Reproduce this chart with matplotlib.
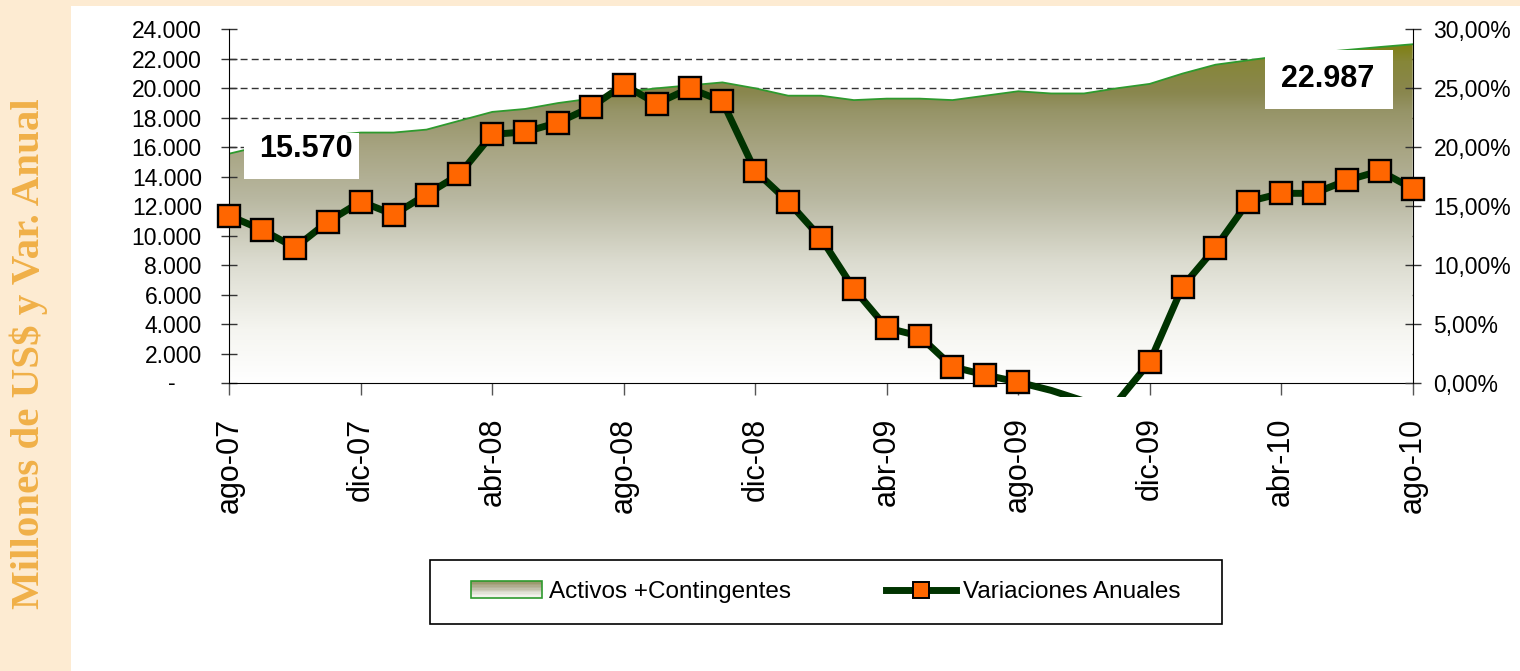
import numpy as np
import matplotlib
matplotlib.use("Agg")
import matplotlib.pyplot as plt
import matplotlib.transforms as mtransforms
from matplotlib.colors import LinearSegmentedColormap
from matplotlib.patches import Rectangle, Polygon, Patch
from matplotlib.lines import Line2D
from matplotlib.legend_handler import HandlerBase

meses = ["ago-07", "sep-07", "oct-07", "nov-07", "dic-07", "ene-08", "feb-08", "mar-08",
         "abr-08", "may-08", "jun-08", "jul-08", "ago-08", "sep-08", "oct-08", "nov-08",
         "dic-08", "ene-09", "feb-09", "mar-09", "abr-09", "may-09", "jun-09", "jul-09",
         "ago-09", "sep-09", "oct-09", "nov-09", "dic-09", "ene-10", "feb-10", "mar-10",
         "abr-10", "may-10", "jun-10", "jul-10", "ago-10"]

# Activos + Contingentes (millones de US$)
activos = [15570, 16100, 16500, 16800, 17000, 17000, 17200, 17800,
           18400, 18600, 19000, 19300, 19750, 20000, 20200, 20400,
           20000, 19500, 19500, 19200, 19300, 19300, 19200, 19500,
           19800, 19650, 19650, 20000, 20300, 21000, 21600, 21900,
           22200, 22400, 22600, 22800, 22987]

# Variaciones anuales (%)
variacion = [14.2, 13.0, 11.5, 13.7, 15.4, 14.3, 16.0, 17.7,
             21.1, 21.3, 22.1, 23.4, 25.3, 23.7, 25.0, 23.9,
             18.0, 15.4, 12.3, 8.0, 4.7, 4.0, 1.4, 0.7,
             0.1, -0.6, -1.5, -1.6, 1.8, 8.2, 11.5, 15.4,
             16.1, 16.1, 17.2, 18.0, 16.5]

etiquetas_x = meses[::4]
ticks_izq = list(range(0, 24001, 2000))
ticks_der = list(range(0, 31, 5))

plt.rcParams["font.family"] = ["Liberation Sans", "DejaVu Sans"]

# gradient of the area, by value (fraction of 24000)
grad = LinearSegmentedColormap.from_list("olivo", [
    (0.0, "#ffffff"), (0.15, "#f5f5f0"), (0.34, "#dcdcd0"), (0.525, "#b8b7a0"),
    (0.66, "#a8a583"), (0.77, "#969467"), (0.82, "#8a874f"), (0.91, "#868638"),
    (0.96, "#7f8010"), (1.0, "#7a7c00")])


class HandlerGradiente(HandlerBase):
    def create_artists(self, legend, orig_handle, xdescent, ydescent, width, height, fontsize, trans):
        n = 12
        arts = []
        for i in range(n):
            frac = 0.08 + 0.75 * (i + 0.5) / n
            arts.append(Rectangle((-xdescent, -ydescent + i * height / n), width, height / n,
                                  facecolor=grad(frac), edgecolor="none", transform=trans))
        arts.append(Rectangle((-xdescent, -ydescent), width, height, facecolor="none",
                              edgecolor="#2e9a2e", lw=1.2, transform=trans))
        return arts


W, H = 1520, 671
fig = plt.figure(figsize=(W / 100, H / 100), dpi=100)
fig.patches.append(Rectangle((0, 0), 71 / W, 1, transform=fig.transFigure,
                             facecolor="#FDEBD2", edgecolor="none", zorder=0))
fig.patches.append(Rectangle((0, 1 - 6 / H), 1, 6 / H, transform=fig.transFigure,
                             facecolor="#FDEBD2", edgecolor="none", zorder=0))

ax = fig.add_axes([229.3 / W, 1 - 383.3 / H, 1183.4 / W, 354 / H])
x = np.arange(len(meses))
ax.set_xlim(0, len(meses) - 1)
ax.set_ylim(0, 24000)

# dashed grid behind the area
for v in ticks_izq[1:-1]:
    ax.axhline(v, color="#333333", lw=1, ls=(0, (5, 3)), zorder=0.5)

im = ax.imshow(np.linspace(0, 1, 256).reshape(-1, 1), cmap=grad, origin="lower",
               extent=[0, len(meses) - 1, 0, 24000], aspect="auto", zorder=1)
verts = list(zip(x, activos)) + [(x[-1], 0), (x[0], 0)]
area = Polygon(verts, closed=True, facecolor="none", edgecolor="none", transform=ax.transData)
ax.add_patch(area)
im.set_clip_path(area)
ax.plot(x, activos, color="#2e9a2e", lw=1.3, zorder=2)

# value boxes
fmt = lambda v: f"{v:,}".replace(",", ".")
ax.add_patch(Rectangle((0.0127, 0.5763), 0.0966, 0.1316, transform=ax.transAxes,
                       facecolor="white", edgecolor="none", zorder=3))
ax.text(0.0644, 0.640, fmt(activos[0]), transform=ax.transAxes, ha="center", va="baseline",
        fontsize=22, fontweight="bold", zorder=4)
ax.add_patch(Rectangle((0.8752, 0.7749), 0.1082, 0.1666, transform=ax.transAxes,
                       facecolor="white", edgecolor="none", zorder=3))
ax.text(0.9284, 0.837, fmt(activos[-1]), transform=ax.transAxes, ha="center", va="baseline",
        fontsize=22, fontweight="bold", zorder=4)

ax.spines["top"].set_visible(False)
ax.spines["right"].set_visible(False)
ax.set_yticks(ticks_izq)
ax.set_yticklabels([""] + [fmt(v) for v in ticks_izq[1:]])
ax.text(-0.0484, 0, "-", transform=mtransforms.blended_transform_factory(ax.transAxes, ax.transData),
        ha="center", va="center", fontsize=16.5)
ax.tick_params(axis="y", direction="inout", length=11.5, width=1, color="#333333",
               labelsize=16.5, pad=14)
ax.set_xticks(x[::4])
ax.set_xticklabels(etiquetas_x, rotation=90, fontsize=22)
ax.tick_params(axis="x", direction="out", length=8.6, width=1, color="#555555", pad=16)

ax2 = ax.twinx()
ax2.set_ylim(0, 30)
ax2.spines["top"].set_visible(False)
ax2.spines["left"].set_visible(False)
ax2.spines["bottom"].set_visible(False)
ax2.set_yticks(ticks_der)
ax2.set_yticklabels([f"{v:.2f}".replace(".", ",") + "%" for v in ticks_der])
ax2.tick_params(axis="y", direction="inout", length=12, width=1, color="#333333",
                labelsize=16.5, pad=9)

var = np.array(variacion)
linea, = ax2.plot(x, var, color="#003300", lw=5, zorder=5, solid_capstyle="round")
linea.set_clip_path(Rectangle((0, -0.039), 1, 1.2, transform=ax2.transAxes))
visibles = var >= 0
ax2.plot(x[visibles], var[visibles], ls="none", marker="s", ms=15.5, mfc="#FF6600",
         mec="black", mew=1.7, zorder=6, clip_on=False)

# legend
proxy_area = Patch()
proxy_linea = Line2D([], [], color="#003300", lw=5, marker="s", ms=12,
                     mfc="#FF6600", mec="black", mew=1.4)
fig.legend([proxy_area, proxy_linea], ["Activos +Contingentes", "Variaciones Anuales"],
           loc="center", bbox_to_anchor=(826 / W, 1 - 592 / H), ncol=2, frameon=False,
           fontsize=17.5, handlelength=2.9, handletextpad=0.3, columnspacing=3.9,
           numpoints=1, handler_map={proxy_area: HandlerGradiente()})
fig.patches.append(Rectangle((430 / W, 1 - 624 / H), 792 / W, 64 / H, transform=fig.transFigure,
                             facecolor="none", edgecolor="black", lw=1.2, zorder=1))

fig.text(29 / W, 1 - 353.5 / H, "Millones de US$ y Var. Anual", rotation=90,
         ha="center", va="center", fontsize=29.5, fontweight="bold", color="#F0B048",
         family=["Liberation Serif", "DejaVu Serif"])

fig.savefig("out.png", dpi=100)
